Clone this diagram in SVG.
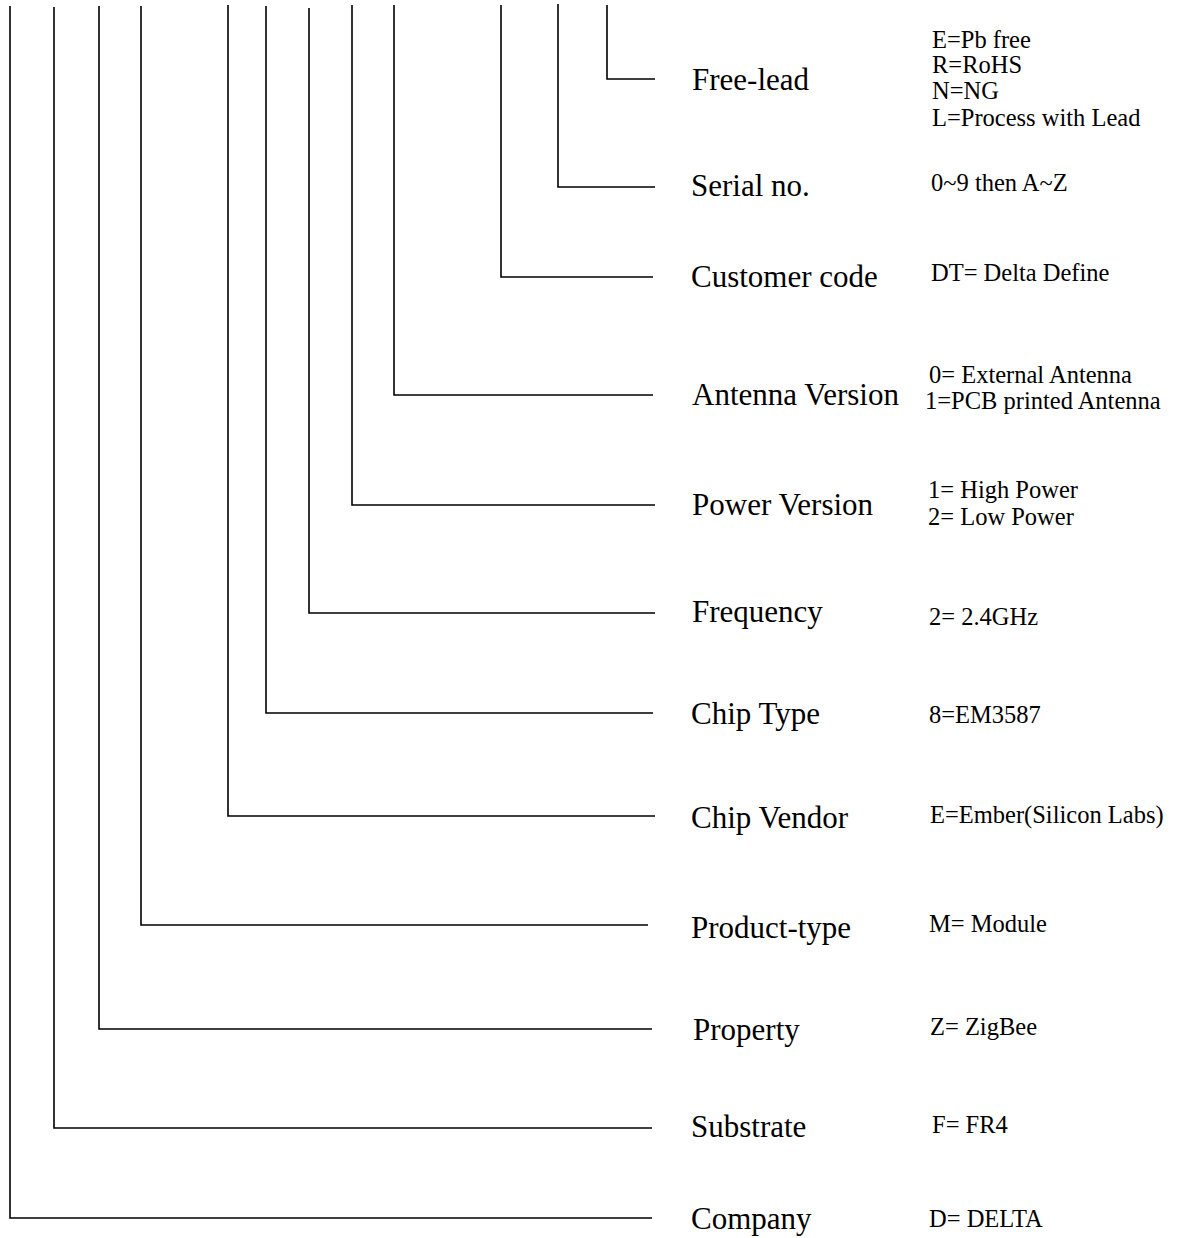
<svg xmlns="http://www.w3.org/2000/svg" width="1179" height="1238" viewBox="0 0 1179 1238">
<style>
.c{fill:none;stroke:#000;stroke-width:1.6}
.t{font-family:"Liberation Serif","Times New Roman",serif;font-size:31px;fill:#000}
.s{font-family:"Liberation Serif","Times New Roman",serif;font-size:24.5px;fill:#000}
</style>
<rect width="1179" height="1238" fill="#fff"/>
<g id="connectors">
<polyline class="c" points="607,5 607,79 655,79"/>
<polyline class="c" points="558,4 558,187 655,187"/>
<polyline class="c" points="501,5 501,277 653,277"/>
<polyline class="c" points="394,5 394,395 653,395"/>
<polyline class="c" points="352,5 352,505 655,505"/>
<polyline class="c" points="309,8 309,613 655,613"/>
<polyline class="c" points="266,6 266,713 653,713"/>
<polyline class="c" points="228,5 228,816 655,816"/>
<polyline class="c" points="141,6 141,925 648,925"/>
<polyline class="c" points="99,6 99,1029 652,1029"/>
<polyline class="c" points="54,7 54,1128 652,1128"/>
<polyline class="c" points="10,6 10,1218 652,1218"/>
</g>
<g id="free-lead"><text class="t" x="692" y="90">Free-lead</text>
<text class="s" x="932" y="48">E=Pb free</text><text class="s" x="932" y="73">R=RoHS</text><text class="s" x="932" y="99">N=NG</text><text class="s" x="932" y="126">L=Process with Lead</text></g>
<g id="serial"><text class="t" x="691" y="196">Serial no.</text><text class="s" x="931" y="191">0~9 then A~Z</text></g>
<g id="customer"><text class="t" x="691" y="287">Customer code</text><text class="s" x="931" y="281">DT= Delta Define</text></g>
<g id="antenna"><text class="t" x="692" y="405">Antenna Version</text><text class="s" x="929" y="383">0= External Antenna</text><text class="s" x="925" y="409">1=PCB printed Antenna</text></g>
<g id="power"><text class="t" x="692" y="515">Power Version</text><text class="s" x="928" y="498">1= High Power</text><text class="s" x="928" y="525">2= Low Power</text></g>
<g id="frequency"><text class="t" x="692" y="622">Frequency</text><text class="s" x="929" y="625">2= 2.4GHz</text></g>
<g id="chiptype"><text class="t" x="691" y="724">Chip Type</text><text class="s" x="929" y="723">8=EM3587</text></g>
<g id="chipvendor"><text class="t" x="691" y="828">Chip Vendor</text><text class="s" x="930" y="823">E=Ember(Silicon Labs)</text></g>
<g id="producttype"><text class="t" x="691" y="938">Product-type</text><text class="s" x="929" y="932">M= Module</text></g>
<g id="property"><text class="t" x="693" y="1040">Property</text><text class="s" x="930" y="1035">Z= ZigBee</text></g>
<g id="substrate"><text class="t" x="691" y="1137">Substrate</text><text class="s" x="932" y="1133">F= FR4</text></g>
<g id="company"><text class="t" x="691" y="1229">Company</text><text class="s" x="929" y="1227">D= DELTA</text></g>
</svg>
